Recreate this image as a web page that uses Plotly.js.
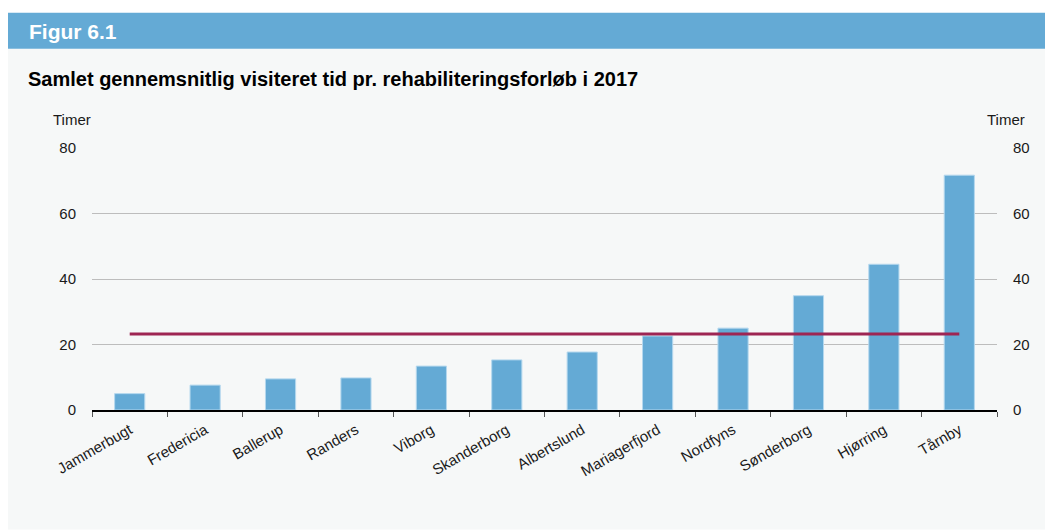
<!DOCTYPE html>
<html>
<head>
<meta charset="utf-8">
<script src="https://cdn.plot.ly/plotly-3.0.1.min.js"></script>
<style>
  html, body { margin: 0; padding: 0; background: #ffffff; }
  #chart { width: 1053px; height: 532px; }
</style>
</head>
<body>
<div id="chart"></div>
<script>
// ---- Data ----
const municipalities = ["Jammerbugt", "Fredericia", "Ballerup", "Randers", "Viborg", "Skanderborg",
  "Albertslund", "Mariagerfjord", "Nordfyns", "Sønderborg", "Hjørring", "Tårnby"];
const hours = [5.0, 7.6, 9.5, 9.8, 13.4, 15.3, 17.7, 22.6, 25.0, 34.9, 44.5, 71.7];
const averageHours = 23.2;
const yTicks = [0, 20, 40, 60, 80];
const figureLabel = "Figur 6.1";
const chartTitle = "Samlet gennemsnitlig visiteret tid pr. rehabiliteringsforløb i 2017";
const unitLabel = "Timer";

// ---- Layout geometry (pixels) ----
const W = 1053, H = 532;
const M = { l: 92, r: 56, t: 148, b: 122 };
const PW = W - M.l - M.r, PH = H - M.t - M.b;
const px = x => (x - M.l) / PW;
const py = y => (H - M.b - y) / PH;

const FONT = "Liberation Sans, Arial, Helvetica, sans-serif";

const traces = [
  {
    type: "bar",
    x: municipalities,
    y: hours,
    width: 0.4,
    marker: { color: "#64aad5", line: { color: "#b5d8ee", width: 1 } },
    hoverinfo: "x+y",
    showlegend: false
  },
  {
    type: "scatter",
    mode: "lines",
    x: [municipalities[0], municipalities[municipalities.length - 1]],
    y: [averageHours, averageHours],
    yaxis: "y2",
    line: { color: "#9e2553", width: 3 },
    hoverinfo: "y",
    showlegend: false
  }
];

const layout = {
  width: W,
  height: H,
  margin: M,
  paper_bgcolor: "#ffffff",
  plot_bgcolor: "rgba(0,0,0,0)",
  font: { family: FONT, color: "#1a1a1a", size: 15 },
  bargap: 0.6,
  xaxis: {
    type: "category",
    range: [-0.5, municipalities.length - 0.5],
    tickson: "boundaries",
    ticks: "outside",
    ticklen: 5,
    tickwidth: 1,
    tickcolor: "#555555",
    ticklabelstandoff: 4,
    showline: true,
    linecolor: "#000000",
    linewidth: 1.5,
    showgrid: false,
    tickangle: -30,
    tickfont: { family: FONT, size: 15, color: "#1a1a1a" },
    fixedrange: true
  },
  yaxis: {
    range: [0, 80],
    tickvals: yTicks,
    ticktext: yTicks.map(String),
    showgrid: true,
    gridcolor: "#bdbdbd",
    gridwidth: 1,
    zeroline: false,
    showline: false,
    ticks: "outside",
    ticklen: 12,
    tickcolor: "rgba(0,0,0,0)",
    tickfont: { family: FONT, size: 15, color: "#1a1a1a" },
    fixedrange: true
  },
  yaxis2: {
    overlaying: "y",
    side: "right",
    range: [0, 80],
    tickvals: yTicks,
    ticktext: yTicks.map(String),
    showgrid: false,
    zeroline: false,
    showline: false,
    ticks: "outside",
    ticklen: 12,
    tickcolor: "rgba(0,0,0,0)",
    tickfont: { family: FONT, size: 15, color: "#1a1a1a" },
    fixedrange: true
  },
  shapes: [
    { type: "rect", xref: "paper", yref: "paper", layer: "below",
      x0: px(8), x1: px(1045), y0: py(529.5), y1: py(48.7),
      fillcolor: "#f6f8f8", line: { width: 0 } },
    { type: "rect", xref: "paper", yref: "paper", layer: "below",
      x0: px(8), x1: px(1045), y0: py(48.7), y1: py(12.7),
      fillcolor: "#64aad5", line: { width: 0 } }
  ],
  annotations: [
    { text: "<b>" + figureLabel + "</b>", xref: "paper", yref: "paper",
      x: px(27), y: py(31), xanchor: "left", yanchor: "middle", showarrow: false,
      font: { family: FONT, size: 21, color: "#ffffff" } },
    { text: "<b>" + chartTitle + "</b>", xref: "paper", yref: "paper",
      x: px(26), y: py(79), xanchor: "left", yanchor: "middle", showarrow: false,
      font: { family: FONT, size: 20, color: "#000000" } },
    { text: unitLabel, xref: "paper", yref: "paper",
      x: px(51), y: py(119), xanchor: "left", yanchor: "middle", showarrow: false,
      font: { family: FONT, size: 15, color: "#1a1a1a" } },
    { text: unitLabel, xref: "paper", yref: "paper",
      x: px(1027), y: py(119), xanchor: "right", yanchor: "middle", showarrow: false,
      font: { family: FONT, size: 15, color: "#1a1a1a" } }
  ]
};

Plotly.newPlot("chart", traces, layout, { displayModeBar: false, staticPlot: true });
</script>
</body>
</html>
